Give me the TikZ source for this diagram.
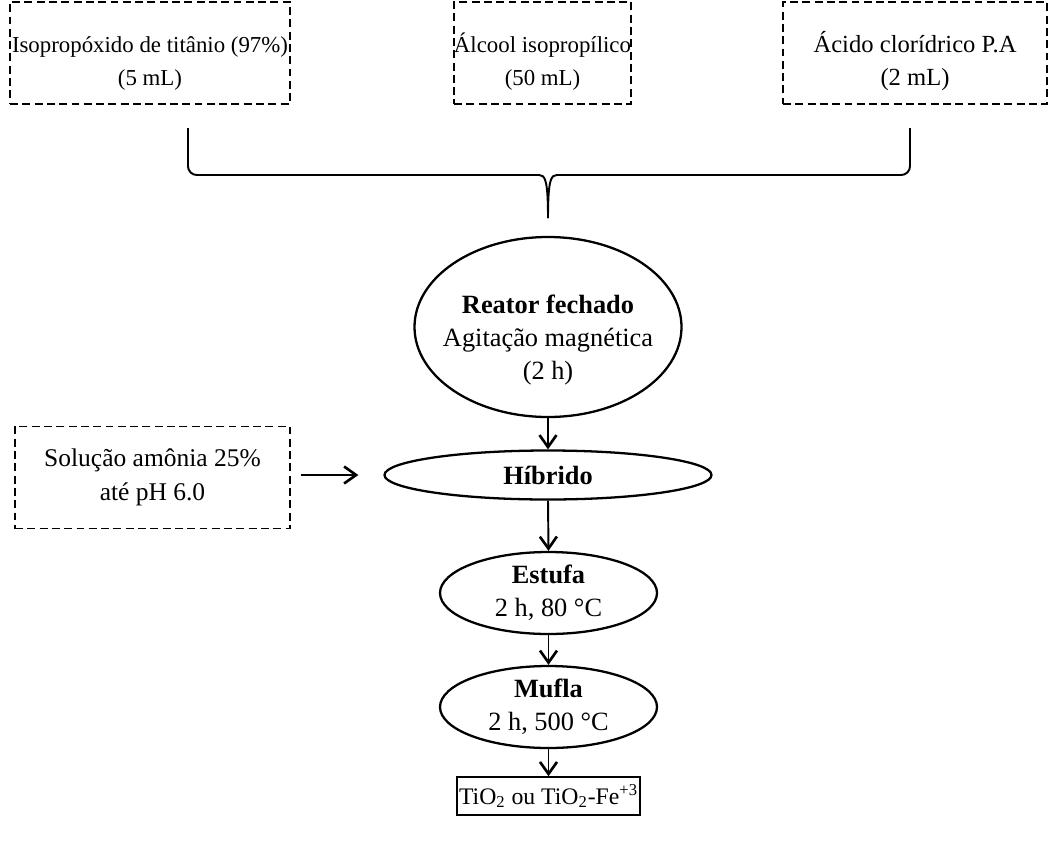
\documentclass[tikz,border=0pt]{standalone}
\usepackage{fontspec}
\setmainfont{Liberation Serif}
\usetikzlibrary{shapes.geometric,arrows.meta}

% invisible strut pushing a node's text down
\newcommand{\padtop}[1]{\rule{0pt}{#1}}

\begin{document}
\begin{tikzpicture}[
    reagent/.style={draw, dash pattern=on 4.5pt off 2.5pt, line width=1.1pt, minimum height=2.04cm,
        inner sep=0pt, align=center, font=\fontsize{13}{18.5}\selectfont},
    stage/.style={draw, ellipse, line width=1.3pt, inner sep=0pt, align=center,
        font=\fontsize{15}{18.8}\selectfont},
    flow/.style={-{Straight Barb[length=2.4mm,width=3.4mm,line width=1.5pt]}, line width=1.1pt},
]
    \useasboundingbox (0,0) rectangle (21.08,-16.86);

    % Reagents
    \node[reagent, minimum width=5.6cm] (iso) at (3.0,-1.06) {\padtop{21pt}Isopropóxido de titânio (97\%)\\(5 mL)};
    \node[reagent, minimum width=3.5cm] (alc) at (10.85,-1.06) {\padtop{21pt}Álcool isopropílico\\(50 mL)};
    \node[reagent, minimum width=5.28cm, font=\fontsize{14}{18.5}\selectfont] (hcl) at (18.3,-1.06)
        {\padtop{21pt}Ácido clorídrico P.A\\(2 mL)};

    % Brace joining the reagents
    \coordinate (braceL) at (3.76,-2.56);
    \coordinate (braceR) at (18.2,-2.56);
    \coordinate (braceMid) at (10.96,-3.5);
    \coordinate (braceTip) at (10.96,-4.36);
    \draw[line width=1.1pt, rounded corners=5pt] (braceL) -- (braceL |- braceMid) -- ([xshift=-0.35cm]braceMid)
        .. controls (10.9,-3.5) and (10.96,-3.6) .. (braceTip);
    \draw[line width=1.1pt, rounded corners=5pt] (braceR) -- (braceR |- braceMid) -- ([xshift=0.35cm]braceMid)
        .. controls (11.02,-3.5) and (10.96,-3.6) .. (braceTip);

    % Process steps
    \node[stage, inner xsep=-2.2mm, minimum width=5.34cm, minimum height=3.6cm] (reator) at (10.96,-6.54)
        {\padtop{25pt}\textbf{Reator fechado}\\Agitação magnética\\(2 h)};
    \node[stage, minimum width=6.54cm, minimum height=0.98cm] (hib) at (10.96,-9.5) {\textbf{Híbrido}};
    \node[stage, minimum width=4.34cm, minimum height=1.64cm] (estufa) at (10.97,-11.86)
        {\textbf{Estufa}\\2 h, 80 °C};
    \node[stage, minimum width=4.34cm, minimum height=1.64cm] (mufla) at (10.97,-14.14)
        {\textbf{Mufla}\\2 h, 500 °C};
    \node[draw, line width=0.9pt, minimum width=3.66cm, minimum height=0.76cm, inner sep=0pt,
        font=\fontsize{13.5}{18}\selectfont] (prod) at (10.97,-15.92)
        {TiO\textsubscript{2} ou TiO\textsubscript{2}-Fe\textsuperscript{+3}};

    % Ammonia addition
    \node[reagent, minimum width=5.5cm, font=\fontsize{14.5}{19}\selectfont] (amonia) at (3.05,-9.55)
        {Solução amônia 25\%\\até pH 6.0};

    % Arrows
    \draw[flow] ([xshift=2mm]amonia.east |- hib.west) -- ([xshift=-5mm]hib.west);
    \draw[flow] (reator.south) -- (hib.north);
    \draw[flow] (hib.south) -- (estufa.north);
    \draw[flow] (estufa.south) -- (mufla.north);
    \draw[flow] (mufla.south) -- (prod.north);
\end{tikzpicture}
\end{document}
